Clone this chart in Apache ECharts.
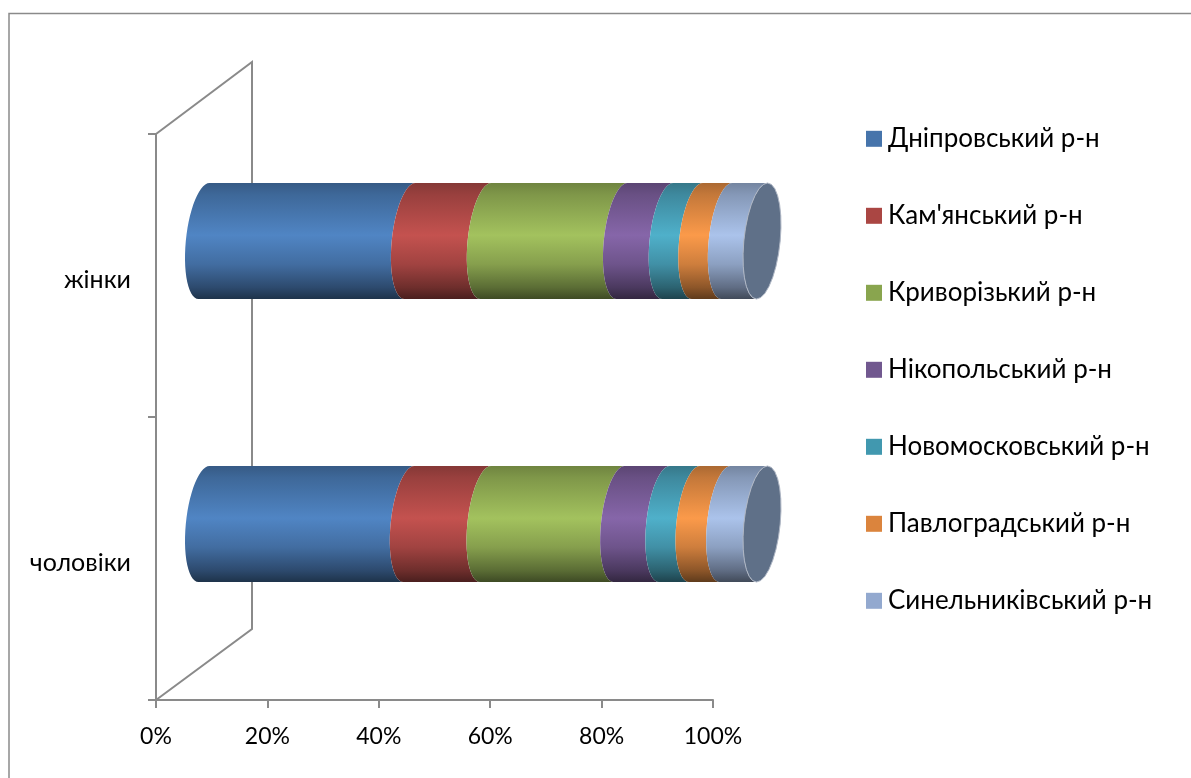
<!DOCTYPE html>
<html><head><meta charset="utf-8">
<style>html,body{margin:0;padding:0;background:#fff}#c{width:1191px;height:778px}</style>
<script src="https://cdn.jsdelivr.net/npm/echarts@6/dist/echarts.min.js"></script>
</head><body><div id="c"></div>
<script>
const categories = ['чоловіки', 'жінки'];
const tickValues = [0, 20, 40, 60, 80, 100];
const districts = ['Дніпровський р-н','Кам\'янський р-н','Криворізький р-н','Нікопольський р-н','Новомосковський р-н','Павлоградський р-н','Синельниківський р-н'];
const men   = [36.7, 13.75, 23.95, 8.1, 5.4, 5.5, 6.6];
const women = [36.9, 13.6, 24.4, 8.2, 5.3, 5.3, 6.3];
const legendColors = ['#4674ab','#aa4643','#89a54e','#71588f','#4198af','#db843d','#93a9cf'];
const barColors = ['#5085c4','#c4524f','#a3c25e','#8666a9','#4fb0ca','#fb9a4a','#abc3eb'];
const FONT = 'Lato, "Open Sans"', FS = 23, FS_CAT = 25, FS_LEG = 26, GRAY = '#8a8a8a';

function shade(hex, k){
  const n = parseInt(hex.slice(1),16);
  const c = [n>>16&255,n>>8&255,n&255].map(v=>Math.round(v*k));
  return 'rgb('+c.join(',')+')';
}
function grad(hex){
  const st=[[0,.68],[.1,.78],[.45,1],[.7,.82],[.9,.56],[1,.38]];
  return new echarts.graphic.LinearGradient(0,0,0,1,st.map(s=>({offset:s[0],color:shade(hex,s[1])})));
}
const RX=18.2, SHEAR=5.5;
function arc(cx,cy,ry,from,to){
  const pts=[],N=28;
  for(let i=0;i<=N;i++){
    const t=from+(to-from)*i/N;
    pts.push([cx+RX*Math.cos(t)-SHEAR*Math.sin(t), cy+ry*Math.sin(t)]);
  }
  return pts;
}
function renderSeg(si){
  return function(params,api){
    const a=api.coord([api.value(0),api.value(2)]), b=api.coord([api.value(1),api.value(2)]);
    const ry=api.size([0,1])[1]*0.205;
    const left=arc(a[0],a[1],ry,-Math.PI/2,-3*Math.PI/2);
    const right=arc(b[0],b[1],ry,-3*Math.PI/2,-Math.PI/2);
    const children=[{type:'polygon',shape:{points:left.concat(right)},style:{fill:grad(barColors[si])}}];
    if(si===districts.length-1){
      children.push({type:'polygon',shape:{points:arc(b[0],b[1],ry,0,2*Math.PI)},
        style:{fill:'#5f7088',stroke:'#aeb6c4',lineWidth:1}});
    }
    return {type:'group',children};
  };
}
const cum=[0,0];
const series=districts.map((name,si)=>{
  const data=[men,women].map((arr,ci)=>{
    const s=cum[ci]; cum[ci]+=arr[si];
    return [s,cum[ci],ci];
  });
  return {name,type:'custom',xAxisIndex:1,yAxisIndex:1,coordinateSystem:'cartesian2d',
    itemStyle:{color:legendColors[si]},renderItem:renderSeg(si),
    encode:{x:[0,1],y:2},data,clip:false,silent:true,animation:false};
});
const axisLine={show:true,lineStyle:{color:GRAY,width:2}};
const chart=echarts.init(document.getElementById('c'),null,{renderer:'canvas'});
chart.setOption({
  animation:false,
  backgroundColor:'#fff',
  grid:[
    {left:156,top:134,width:557,height:566},
    {left:204,top:99.5,width:558,height:566},
    {left:156,top:138,width:557,height:566}
  ],
  xAxis:[
    {type:'value',gridIndex:0,min:0,max:100,interval:20,splitLine:{show:false},axisLine,
     axisTick:{show:true,length:8,lineStyle:{color:GRAY,width:2}},
     axisLabel:{margin:25,color:'#000',fontFamily:FONT,fontSize:FS,formatter:'{value}%',hideOverlap:false}},
    {type:'value',gridIndex:1,min:0,max:100,show:false},
    {type:'value',gridIndex:2,min:0,max:100,show:false}
  ],
  yAxis:[
    {type:'category',gridIndex:0,data:categories,axisLine,
     axisTick:{show:true,length:8,lineStyle:{color:GRAY,width:2}},
     axisLabel:{show:false}},
    {type:'category',gridIndex:1,data:categories,show:false},
    {type:'category',gridIndex:2,data:categories,axisLine:{show:false},axisTick:{show:false},
     axisLabel:{margin:25,color:'#000',fontFamily:FONT,fontSize:FS_CAT}}
  ],
  legend:{orient:'vertical',left:861,top:120,icon:'rect',itemWidth:16,itemHeight:16,itemGap:49.4,
    data:districts,selectedMode:false,
    textStyle:{color:'#000',fontFamily:FONT,fontSize:FS_LEG,padding:[0,0,0,1],lineHeight:27.6}},
  graphic:[
    {type:'polyline',silent:true,z:0,shape:{points:[[156,134],[252,62],[252,629],[156,700]]},style:{fill:null,stroke:GRAY,lineWidth:2}},
    {type:'polyline',silent:true,z:0,shape:{points:[[9,778],[9,13.5],[1191,13.5]]},style:{fill:null,stroke:GRAY,lineWidth:1.5}}
  ],
  series
});
</script></body></html>
